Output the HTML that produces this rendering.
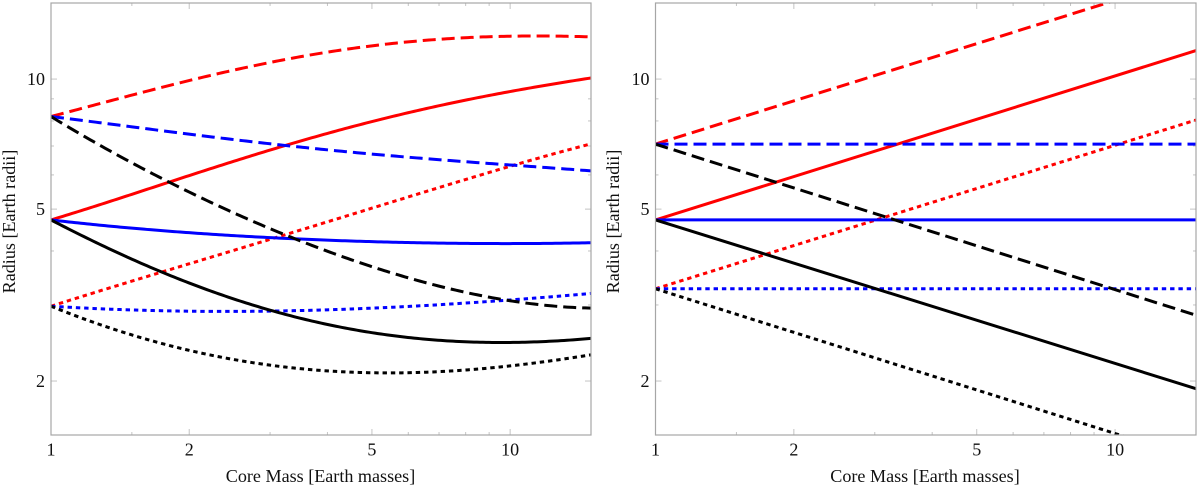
<!DOCTYPE html>
<html>
<head>
<meta charset="utf-8">
<title>Core mass vs radius</title>
<style>
html,body{margin:0;padding:0;background:#fff;width:1200px;height:487px;overflow:hidden}
svg{display:block}
text{font-family:"Liberation Serif",serif;fill:#111}
</style>
</head>
<body>
<svg id="chart" xmlns="http://www.w3.org/2000/svg" width="1200" height="487" viewBox="0 0 1200 487">
  <defs>
    <clipPath id="clip-left"><rect x="51" y="3" width="540" height="432"/></clipPath>
    <clipPath id="clip-right"><rect x="655.5" y="3" width="540.5" height="432"/></clipPath>
  </defs>
  <g id="panel-left"></g>
  <g id="panel-right"></g>
  <text x="320.5" y="482" font-size="18.1" text-anchor="middle">Core Mass [Earth masses]</text>
  <text x="925" y="482" font-size="18.1" text-anchor="middle">Core Mass [Earth masses]</text>
  <text x="0" y="0" font-size="18.1" text-anchor="middle" transform="translate(15 221.5) rotate(-90)">Radius [Earth radii]</text>
  <text x="0" y="0" font-size="18.1" text-anchor="middle" transform="translate(619 221.5) rotate(-90)">Radius [Earth radii]</text>
</svg>
<script>
const xMajorTicks = [1, 2, 5, 10];
const xMinorTicks = [1.5, 3, 4, 6, 7, 8, 9];
const yMajorTicks = [2, 5, 10];
const yMinorTicks = [3, 4, 6, 7, 8, 9];

const leftMasses = [1, 1.5, 2, 3, 5, 7, 10, 15];
const leftRedDashed = [8.19, 9.19, 9.90, 10.95, 11.93, 12.35, 12.58, 12.52];
const leftRedSolid = [4.72, 5.42, 5.97, 6.85, 7.96, 8.71, 9.33, 10.06];
const leftRedDotted = [2.98, 3.41, 3.73, 4.26, 5.03, 5.60, 6.29, 7.08];
const leftBlueDashed = [8.19, 7.75, 7.46, 7.08, 6.71, 6.50, 6.33, 6.13];
const leftBlueSolid = [4.72, 4.52, 4.41, 4.29, 4.21, 4.17, 4.16, 4.18];
const leftBlueDotted = [2.98, 2.92, 2.90, 2.91, 2.94, 3.01, 3.08, 3.19];
const leftBlackDashed = [8.19, 6.33, 5.53, 4.52, 3.65, 3.32, 3.08, 2.95];
const leftBlackSolid = [4.72, 3.83, 3.37, 2.92, 2.59, 2.48, 2.46, 2.51];
const leftBlackDotted = [2.98, 2.56, 2.35, 2.18, 2.09, 2.10, 2.17, 2.30];

const rightMasses = [1, 15];
const rightRedDashed = [7.07, 17.4];
const rightRedSolid = [4.72, 11.64];
const rightRedDotted = [3.27, 8.04];
const rightBlueDashed = [7.07, 7.07];
const rightBlueSolid = [4.72, 4.72];
const rightBlueDotted = [3.27, 3.27];
const rightBlackDashed = [7.07, 2.84];
const rightBlackSolid = [4.72, 1.92];
const rightBlackDotted = [3.27, 1.32];

const SVG_NS = 'http://www.w3.org/2000/svg';
const massMin = 1, massMax = 15, radiusMin = 1.5, radiusMax = 15;
const plotTop = 3, plotBottom = 435;
const dashLong = '13 6', dashDot = '4.4 3.9';

function make(tag, parent, attrs) {
  const el = document.createElementNS(SVG_NS, tag);
  for (const k in attrs) el.setAttribute(k, attrs[k]);
  parent.appendChild(el);
  return el;
}
function xAxis(x0, x1) {
  return m => x0 + (x1 - x0) * Math.log10(m / massMin) / Math.log10(massMax / massMin);
}
function yAxis(r) {
  return plotBottom - (plotBottom - plotTop) * Math.log10(r / radiusMin) / Math.log10(radiusMax / radiusMin);
}
/* Smooth weighted least-squares curve through the read values (pixel space). */
function smoothFit(pts, degree) {
  const n = degree + 1;
  const x0 = pts[0][0], span = pts[pts.length - 1][0] - x0;
  const A = [];
  for (let i = 0; i < n; i++) A.push(new Array(n + 1).fill(0));
  pts.forEach((p, idx) => {
    const w = (idx === 0 || idx === pts.length - 1) ? 12 : 1;
    const t = (p[0] - x0) / span;
    for (let i = 0; i < n; i++) {
      for (let j = 0; j < n; j++) A[i][j] += w * Math.pow(t, i + j);
      A[i][n] += w * Math.pow(t, i) * p[1];
    }
  });
  for (let c = 0; c < n; c++) {
    let piv = c;
    for (let r = c + 1; r < n; r++) if (Math.abs(A[r][c]) > Math.abs(A[piv][c])) piv = r;
    const tmp = A[c]; A[c] = A[piv]; A[piv] = tmp;
    for (let r = 0; r < n; r++) {
      if (r === c) continue;
      const f = A[r][c] / A[c][c];
      for (let k = c; k <= n; k++) A[r][k] -= f * A[c][k];
    }
  }
  const coef = A.map((row, i) => row[n] / row[i]);
  return x => {
    const t = (x - x0) / span;
    let y = 0;
    for (let i = n - 1; i >= 0; i--) y = y * t + coef[i];
    return y;
  };
}
function curvePath(pts) {
  if (pts.length === 2) {
    return 'M' + pts[0][0].toFixed(2) + ' ' + pts[0][1].toFixed(2) + 'L' + pts[1][0].toFixed(2) + ' ' + pts[1][1].toFixed(2);
  }
  const fit = smoothFit(pts, 4);
  const x0 = pts[0][0], x1 = pts[pts.length - 1][0];
  let d = '';
  for (let x = x0; x <= x1 + 0.01; x += 3) {
    d += (d ? 'L' : 'M') + x.toFixed(2) + ' ' + fit(x).toFixed(2);
  }
  return d;
}
function drawPanel(groupId, side, x0, x1, clipId, masses, seriesList) {
  const g = document.getElementById(groupId);
  const xs = xAxis(x0, x1);
  const tickGroup = make('g', g, {});
  
  
  const tick = (a, b, c, d) => make('line', tickGroup, {x1: a, y1: b, x2: c, y2: d, stroke: '#c4c4c4', 'stroke-width': 1});
  xMajorTicks.concat(xMinorTicks).forEach(m => {
    const len = xMajorTicks.includes(m) ? 6 : 3;
    tick(xs(m), plotBottom, xs(m), plotBottom - len);
    tick(xs(m), plotTop, xs(m), plotTop + len);
  });
  yMajorTicks.concat(yMinorTicks).forEach(r => {
    const len = yMajorTicks.includes(r) ? 6 : 3;
    tick(x0, yAxis(r), x0 + len, yAxis(r));
    tick(x1, yAxis(r), x1 - len, yAxis(r));
  });
  const lines = make('g', g, {'clip-path': 'url(#' + clipId + ')'});
  
  
  seriesList.forEach(s => {
    const pts = masses.map((m, i) => [xs(m), yAxis(s.values[i])]);
    const attrs = {d: curvePath(pts), fill: 'none', stroke: s.color, 'stroke-width': 3};
    if (s.dash) attrs['stroke-dasharray'] = s.dash;
    const path = make('path', lines, attrs);
    
    
  });
  const frame = make('rect', g, {x: x0, y: plotTop, width: x1 - x0, height: plotBottom - plotTop, fill: 'none', stroke: '#a6a6a6', 'stroke-width': 1.2});
  
  
  xMajorTicks.forEach(m => {
    const t = make('text', g, {x: xs(m), y: 455.6, 'font-size': 18, 'text-anchor': 'middle'});
    t.textContent = String(m);
    
    
  });
  yMajorTicks.forEach(r => {
    const t = make('text', g, {x: x0 - 6, y: yAxis(r) + 5.8, 'font-size': 18, 'text-anchor': 'end'});
    t.textContent = String(r);
    
    
  });
}
drawPanel('panel-left', 'left', 51, 591, 'clip-left', leftMasses, [
  {name: 'red-dashed-line', values: leftRedDashed, color: '#ff0000', dash: dashLong},
  {name: 'red-solid-line', values: leftRedSolid, color: '#ff0000'},
  {name: 'red-dotted-line', values: leftRedDotted, color: '#ff0000', dash: dashDot},
  {name: 'blue-dashed-line', values: leftBlueDashed, color: '#0000ff', dash: dashLong},
  {name: 'blue-solid-line', values: leftBlueSolid, color: '#0000ff'},
  {name: 'blue-dotted-line', values: leftBlueDotted, color: '#0000ff', dash: dashDot},
  {name: 'black-dashed-line', values: leftBlackDashed, color: '#000000', dash: dashLong},
  {name: 'black-solid-line', values: leftBlackSolid, color: '#000000'},
  {name: 'black-dotted-line', values: leftBlackDotted, color: '#000000', dash: dashDot}
]);
drawPanel('panel-right', 'right', 655.5, 1196, 'clip-right', rightMasses, [
  {name: 'red-dashed-line', values: rightRedDashed, color: '#ff0000', dash: dashLong},
  {name: 'red-solid-line', values: rightRedSolid, color: '#ff0000'},
  {name: 'red-dotted-line', values: rightRedDotted, color: '#ff0000', dash: dashDot},
  {name: 'blue-dashed-line', values: rightBlueDashed, color: '#0000ff', dash: dashLong},
  {name: 'blue-solid-line', values: rightBlueSolid, color: '#0000ff'},
  {name: 'blue-dotted-line', values: rightBlueDotted, color: '#0000ff', dash: dashDot},
  {name: 'black-dashed-line', values: rightBlackDashed, color: '#000000', dash: dashLong},
  {name: 'black-solid-line', values: rightBlackSolid, color: '#000000'},
  {name: 'black-dotted-line', values: rightBlackDotted, color: '#000000', dash: dashDot}
]);
</script>
</body>
</html>
